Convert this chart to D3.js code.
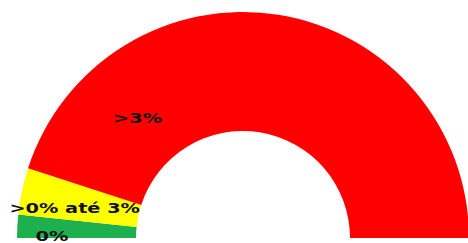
<!DOCTYPE html>
<html>
<head>
<meta charset="utf-8">
<script src="https://cdn.jsdelivr.net/npm/d3@7"></script>
<style>
  body { margin: 0; background: #fff; }
  svg { display: block; }
</style>
</head>
<body>
<svg id="viz" width="468" height="243"></svg>
<script>
// faixas do indicador (metade superior de uma rosca)
var categories = ["0%", ">0% até 3%", ">3%"];
var values = [3.3, 6.7, 90];
var colors = ["#1eb04e", "#ffff00", "#ff0000"];

var width = 468, height = 243;
var cx = 243, cy = 238;
var outerR = 226, innerR = 107;

var svg = d3.select("#viz");
var g = svg.append("g").attr("transform", "translate(" + cx + "," + cy + ")");

var pie = d3.pie()
    .sort(null)
    .startAngle(-Math.PI / 2)
    .endAngle(Math.PI / 2)
    .value(function (d) { return d; });

var arc = d3.arc().innerRadius(innerR).outerRadius(outerR);

var slices = pie(values);

g.selectAll("path")
    .data(slices)
    .enter()
    .append("path")
    .attr("d", arc)
    .attr("fill", function (d, i) { return colors[i]; });

// posição dos rótulos: raio e fração do ângulo dentro de cada faixa
var labelPos = [
    { r: 191, t: 0.1 },
    { r: 171, t: 0.35 },
    { r: 160, t: 0.19 }
];

g.selectAll("text")
    .data(slices)
    .enter()
    .append("text")
    .attr("transform", function (d, i) {
        var a = d.startAngle + (d.endAngle - d.startAngle) * labelPos[i].t;
        var p = d3.pointRadial(a, labelPos[i].r);
        return "translate(" + p[0] + "," + p[1] + ") scale(1.38,1)";
    })
    .attr("text-anchor", "middle")
    .attr("dy", "0.36em")
    .style("font-family", "DejaVu Sans")
    .style("font-weight", "bold")
    .style("font-size", "14px")
    .style("fill", "#111")
    .text(function (d, i) { return categories[i]; });
</script>
</body>
</html>
